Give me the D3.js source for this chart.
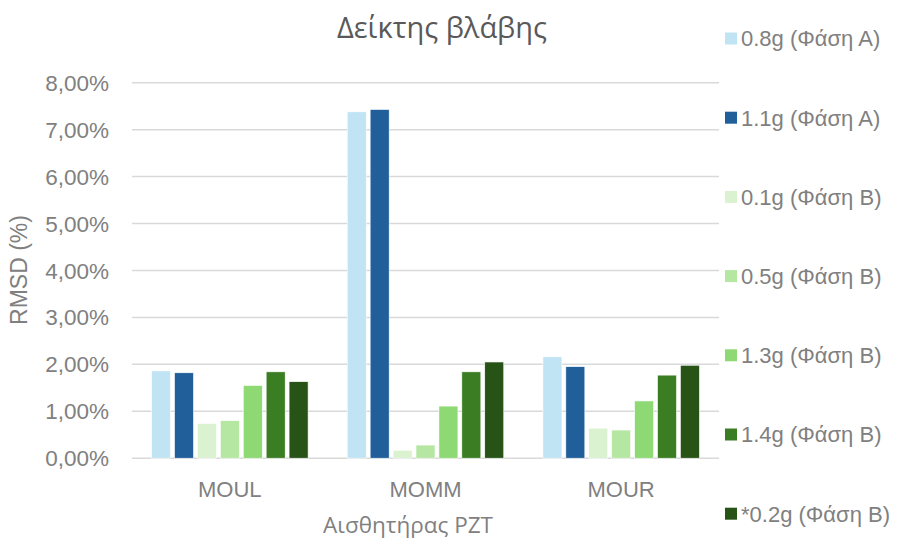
<!DOCTYPE html>
<html>
<head>
<meta charset="utf-8">
<script src="https://cdn.jsdelivr.net/npm/d3@7"></script>
<style>
  body { margin: 0; background: #fff; }
  text { font-family: "Liberation Sans", Arial, sans-serif; }
</style>
</head>
<body>
<div id="chart"></div>
<script>
// data
var sensors = ["MOUL", "MOMM", "MOUR"];
var seriesNames = ["0.8g (Φάση Α)", "1.1g (Φάση Α)", "0.1g (Φάση Β)", "0.5g (Φάση Β)",
                   "1.3g (Φάση Β)", "1.4g (Φάση Β)", "*0.2g (Φάση Β)"];
var seriesColors = ["#c1e4f5", "#215f9a", "#daf2d0", "#b5e6a2", "#8ed973", "#3b7d23", "#275317"];
// one array per series, values in % for MOUL, MOMM, MOUR
var s08A  = [1.86, 7.38, 2.16];
var s11A  = [1.82, 7.43, 1.95];
var s01B  = [0.74, 0.17, 0.64];
var s05B  = [0.80, 0.28, 0.60];
var s13B  = [1.55, 1.11, 1.22];
var s14B  = [1.84, 1.84, 1.77];
var s02B  = [1.63, 2.05, 1.98];
var yTicks = [0, 1, 2, 3, 4, 5, 6, 7, 8];

var seriesValues = [s08A, s11A, s01B, s05B, s13B, s14B, s02B];

var width = 900, height = 541;
var plot = {left: 132, right: 719, top: 82.7, bottom: 458.2};

var svg = d3.select("#chart").append("svg")
    .attr("width", width)
    .attr("height", height);

var x0 = d3.scaleBand()
    .domain(sensors)
    .range([plot.left, plot.right])
    .paddingInner(0.2)
    .paddingOuter(0.1);

var x1 = d3.scaleBand()
    .domain(d3.range(seriesNames.length))
    .range([0, x0.bandwidth()])
    .paddingInner(0.17);

var y = d3.scaleLinear()
    .domain([0, 8])
    .range([plot.bottom, plot.top]);

var locale = d3.formatLocale({decimal: ",", thousands: ".", grouping: [3], currency: ["", "€"]});
var fmt = function(v) { return locale.format(".2f")(v) + "%"; };

// gridlines
svg.append("g").selectAll("line").data(yTicks).enter()
  .append("line")
    .attr("x1", plot.left)
    .attr("x2", plot.right)
    .attr("y1", function(d) { return y(d); })
    .attr("y2", function(d) { return y(d); })
    .attr("stroke", "#d9d9d9")
    .attr("stroke-width", 1.5);

// y tick labels
svg.append("g").selectAll("text").data(yTicks).enter()
  .append("text")
    .attr("x", 109)
    .attr("y", function(d) { return y(d); })
    .attr("dy", "0.36em")
    .attr("text-anchor", "end")
    .style("font-size", "22.5px")
    .style("fill", "#808080")
    .text(fmt);

// bars
var groups = svg.append("g").selectAll("g").data(sensors).enter()
  .append("g")
    .attr("transform", function(d) { return "translate(" + x0(d) + ",0)"; });

groups.selectAll("rect")
    .data(function(d, i) {
      return seriesValues.map(function(vals, s) { return {s: s, value: vals[i]}; });
    })
  .enter().append("rect")
    .attr("x", function(d) { return x1(d.s); })
    .attr("width", x1.bandwidth())
    .attr("y", function(d) { return y(d.value); })
    .attr("height", function(d) { return y(0) - y(d.value); })
    .attr("fill", function(d) { return seriesColors[d.s]; })
    .attr("stroke", "#ffffff")
    .attr("stroke-width", 0.6);

// x category labels
svg.append("g").selectAll("text").data(sensors).enter()
  .append("text")
    .attr("x", function(d) { return x0(d) + x0.bandwidth() / 2; })
    .attr("y", 497)
    .attr("text-anchor", "middle")
    .style("font-size", "22px")
    .style("fill", "#808080")
    .text(function(d) { return d; });

// title
svg.append("text")
    .attr("x", 442)
    .attr("y", 38)
    .attr("text-anchor", "middle")
    .style("font-family", "'Open Sans', sans-serif")
    .style("font-size", "29px")
    .style("fill", "#595959")
    .text("Δείκτης βλάβης");

// axis titles
svg.append("text")
    .attr("x", 408)
    .attr("y", 533)
    .attr("text-anchor", "middle")
    .style("font-family", "'Open Sans', sans-serif")
    .style("font-size", "22.5px")
    .style("fill", "#808080")
    .text("Αισθητήρας PZT");

svg.append("text")
    .attr("transform", "translate(27,270) rotate(-90)")
    .attr("text-anchor", "middle")
    .style("font-size", "23px")
    .style("fill", "#808080")
    .text("RMSD (%)");

// legend
var legend = svg.append("g").selectAll("g").data(seriesNames).enter()
  .append("g")
    .attr("transform", function(d, i) { return "translate(725," + (38.5 + i * 79.2) + ")"; });

legend.append("rect")
    .attr("x", 0)
    .attr("y", -6)
    .attr("width", 12)
    .attr("height", 12)
    .attr("fill", function(d, i) { return seriesColors[i]; });

legend.append("text")
    .attr("x", 16)
    .attr("y", 0)
    .attr("dy", "0.36em")
    .style("font-size", "22px")
    .style("fill", "#808080")
    .text(function(d) { return d; });
</script>
</body>
</html>
